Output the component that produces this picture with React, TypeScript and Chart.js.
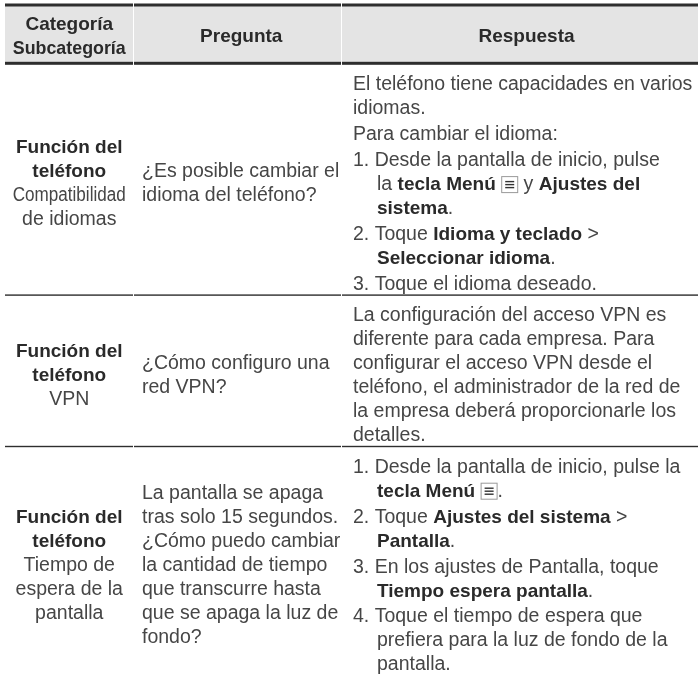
import { useEffect, useRef } from "react";
import { Chart, registerables } from "chart.js";

Chart.register(...registerables);

// ---------- data ----------
const HEADER_LINES: string[][] = [["Categoría", "Subcategoría"], ["Pregunta"], ["Respuesta"]];

const CATEGORIES: string[][] = [
  ["Función del", "teléfono"],
  ["Función del", "teléfono"],
  ["Función del", "teléfono"],
];

const SUBCATEGORIES: string[][] = [
  ["Compatibilidad", "de idiomas"],
  ["VPN"],
  ["Tiempo de", "espera de la", "pantalla"],
];

const QUESTIONS: string[][] = [
  ["¿Es posible cambiar el", "idioma del teléfono?"],
  ["¿Cómo configuro una", "red VPN?"],
  [
    "La pantalla se apaga",
    "tras solo 15 segundos.",
    "¿Cómo puedo cambiar",
    "la cantidad de tiempo",
    "que transcurre hasta",
    "que se apaga la luz de",
    "fondo?",
  ],
];

// paragraphs of lines; "\t" = hanging indent, **bold**, [menu] = menu key icon
const ANSWERS: string[][][] = [
  [
    ["El teléfono tiene capacidades en varios", "idiomas."],
    ["Para cambiar el idioma:"],
    ["1. Desde la pantalla de inicio, pulse", "\tla **tecla Menú** [menu] y **Ajustes del**", "\t**sistema**."],
    ["2. Toque **Idioma y teclado** >", "\t**Seleccionar idioma**."],
    ["3. Toque el idioma deseado."],
  ],
  [
    [
      "La configuración del acceso VPN es",
      "diferente para cada empresa. Para",
      "configurar el acceso VPN desde el",
      "teléfono, el administrador de la red de",
      "la empresa deberá proporcionarle los",
      "detalles.",
    ],
  ],
  [
    ["1. Desde la pantalla de inicio, pulse la", "\t**tecla Menú** [menu]."],
    ["2. Toque **Ajustes del sistema** >", "\t**Pantalla**."],
    ["3. En los ajustes de Pantalla, toque", "\t**Tiempo espera pantalla**."],
    ["4. Toque el tiempo de espera que", "\tprefiera para la luz de fondo de la", "\tpantalla."],
  ],
];

// ---------- layout / style ----------
const W = 698;
const H = 675;
const COLS = [5, 133.5, 341.5, 701];
const TEXT_LEFT = [5, 142, 353];
const INDENT = 24;
const LH = 24;
const PARA_GAP = 1.9;
const TOP_PAD = 25.5;
const BOTTOM_PAD = 4.5;
const HEADER_TOP = 5;
const HEADER_BOTTOM = 63.3;
const HEAVY_RULE = 3;
const LIGHT_RULE = 1.4;
const FAMILY = '"Liberation Sans", Arial, Helvetica, sans-serif';
const REG = `19.5px ${FAMILY}`;
const BOLD = `bold 19px ${FAMILY}`;
const REG_COLOR = "#464646";
const BOLD_COLOR = "#2a2a2a";
const RULE_COLOR = "#2e2e2e";
const HEADER_BG = "#e4e4e4";
const LEFT_MAX = 113;
const ICON_W = 17;

function drawMenuIcon(ctx: CanvasRenderingContext2D, x: number, baseline: number) {
  const top = baseline - 14;
  ctx.save();
  ctx.fillStyle = "#ffffff";
  ctx.fillRect(x, top, ICON_W, 17);
  ctx.strokeStyle = "#9a9a9a";
  ctx.lineWidth = 1;
  ctx.strokeRect(x + 0.5, top + 0.5, ICON_W - 1, 16);
  ctx.strokeStyle = "#333333";
  ctx.lineWidth = 1.4;
  for (let k = 0; k < 3; k++) {
    const yy = top + 5.5 + k * 3;
    ctx.beginPath();
    ctx.moveTo(x + 4, yy);
    ctx.lineTo(x + ICON_W - 4, yy);
    ctx.stroke();
  }
  ctx.restore();
}

function drawRich(ctx: CanvasRenderingContext2D, text: string, x: number, y: number) {
  const parts = text.split(/(\*\*[^*]+\*\*|\[menu\])/).filter((p) => p.length > 0);
  let cx = x;
  for (const p of parts) {
    if (p === "[menu]") {
      drawMenuIcon(ctx, cx, y);
      cx += ICON_W;
      continue;
    }
    const bold = p.startsWith("**");
    const t = bold ? p.slice(2, -2) : p;
    ctx.font = bold ? BOLD : REG;
    ctx.fillStyle = bold ? BOLD_COLOR : REG_COLOR;
    ctx.fillText(t, cx, y);
    cx += ctx.measureText(t).width;
  }
}

function hRule(ctx: CanvasRenderingContext2D, X: (v: number) => number, Y: (v: number) => number, y: number, w: number) {
  ctx.fillStyle = RULE_COLOR;
  for (let c = 0; c < 3; c++) {
    const a = X(COLS[c] + (c === 0 ? 0 : 0.5));
    const b = X(COLS[c + 1] - 0.5);
    ctx.fillRect(a, Y(y) - w / 2, b - a, w);
  }
}

const tablePlugin = {
  id: "faqTable",
  afterDraw(chart: any) {
    const ctx: CanvasRenderingContext2D = chart.ctx;
    const X = (v: number) => chart.scales.x.getPixelForValue(v);
    const Y = (v: number) => chart.scales.y.getPixelForValue(v);
    ctx.save();
    ctx.fillStyle = "#ffffff";
    ctx.fillRect(0, 0, chart.width, chart.height);

    // header band
    ctx.fillStyle = HEADER_BG;
    ctx.fillRect(X(COLS[0]), Y(HEADER_TOP), X(COLS[3]) - X(COLS[0]), Y(HEADER_BOTTOM) - Y(HEADER_TOP));
    ctx.fillStyle = "#ffffff";
    for (const c of [COLS[1], COLS[2]]) {
      ctx.fillRect(X(c) - 0.5, Y(HEADER_TOP), 1, Y(HEADER_BOTTOM) - Y(HEADER_TOP));
    }
    hRule(ctx, X, Y, HEADER_TOP, HEAVY_RULE);
    hRule(ctx, X, Y, HEADER_BOTTOM, HEAVY_RULE);

    ctx.textBaseline = "alphabetic";
    const hMid = (HEADER_TOP + HEADER_BOTTOM) / 2 + 7.8;
    HEADER_LINES.forEach((lines, c) => {
      const left = c === 0 ? COLS[0] : TEXT_LEFT[c];
      const cxm = (left + COLS[c + 1] - (c === 0 ? 0 : 1)) / 2;
      lines.forEach((t, k) => {
        ctx.font = BOLD;
        ctx.fillStyle = BOLD_COLOR;
        ctx.textAlign = "center";
        const by = hMid + (k - (lines.length - 1) / 2) * LH;
        ctx.fillText(t, X(cxm), Y(by), LEFT_MAX + (c === 0 ? 0 : 400));
      });
    });

    // body rows
    let top = HEADER_BOTTOM + HEAVY_RULE / 2;
    ANSWERS.forEach((paras, r) => {
      const nLines = paras.reduce((s, p) => s + p.length, 0);
      const span = (nLines - 1) * LH + (paras.length - 1) * PARA_GAP;
      const bottom = top + TOP_PAD + span + BOTTOM_PAD;
      const mid = (top + bottom) / 2 + 9.7;

      // left column: category (bold) + subcategory
      const left = [
        ...CATEGORIES[r].map((t) => ({ t, b: true })),
        ...SUBCATEGORIES[r].map((t) => ({ t, b: false })),
      ];
      ctx.textAlign = "center";
      left.forEach((item, k) => {
        ctx.font = item.b ? BOLD : REG;
        ctx.fillStyle = item.b ? BOLD_COLOR : REG_COLOR;
        const by = mid + (k - (left.length - 1) / 2) * LH;
        ctx.fillText(item.t, X((COLS[0] + COLS[1]) / 2), Y(by), LEFT_MAX);
      });

      // question column
      ctx.textAlign = "left";
      const q = QUESTIONS[r];
      q.forEach((t, k) => {
        ctx.font = REG;
        ctx.fillStyle = REG_COLOR;
        const by = mid + (k - (q.length - 1) / 2) * LH;
        ctx.fillText(t, X(TEXT_LEFT[1]), Y(by));
      });

      // answer column
      let by = top + TOP_PAD;
      paras.forEach((p, pi) => {
        if (pi > 0) by += PARA_GAP;
        p.forEach((line) => {
          const indented = line.startsWith("\t");
          const txt = indented ? line.slice(1) : line;
          drawRich(ctx, txt, X(TEXT_LEFT[2] + (indented ? INDENT : 0)), Y(by));
          by += LH;
        });
      });

      if (r < ANSWERS.length - 1) {
        hRule(ctx, X, Y, bottom + LIGHT_RULE / 2, LIGHT_RULE);
      }
      top = bottom + LIGHT_RULE;
    });
    ctx.restore();
  },
};

export default function App() {
  const ref = useRef<HTMLCanvasElement | null>(null);
  useEffect(() => {
    document.body.style.margin = "0";
    const canvas = ref.current;
    if (!canvas) return;
    const chart = new Chart(canvas, {
      type: "scatter",
      data: { datasets: [{ data: [] }] },
      options: {
        animation: false,
        responsive: false,
        devicePixelRatio: 1,
        layout: { padding: 0 },
        plugins: { legend: { display: false }, tooltip: { enabled: false } },
        scales: {
          x: { type: "linear", min: 0, max: W, display: false },
          y: { type: "linear", min: 0, max: H, reverse: true, display: false },
        },
      },
      plugins: [tablePlugin],
    });
    return () => chart.destroy();
  }, []);
  return <canvas ref={ref} width={W} height={H} style={{ display: "block", width: W, height: H }} />;
}
